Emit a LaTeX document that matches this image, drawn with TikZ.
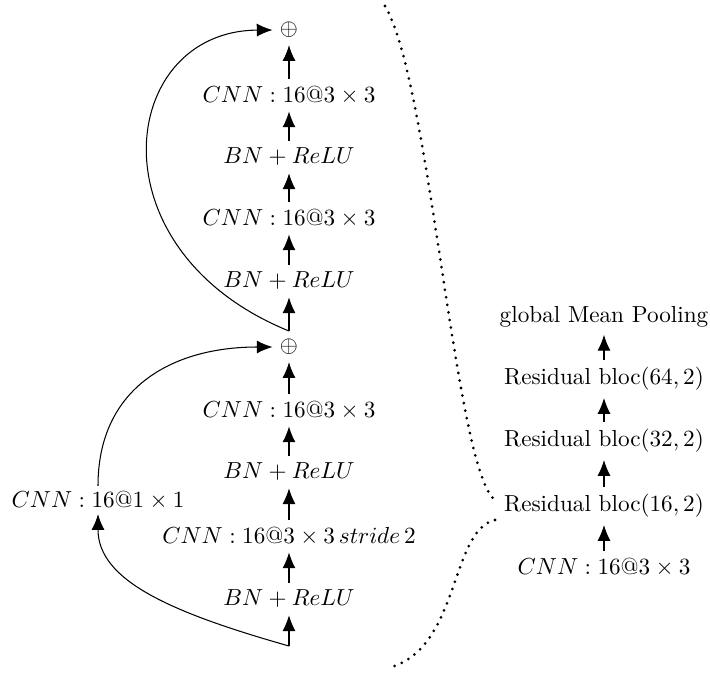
\documentclass[tikz,border=0pt]{standalone}
\usetikzlibrary{arrows.meta}
\begin{document}
\begin{tikzpicture}[x=0.431pt,y=-0.431pt,
  lbl/.style={inner sep=3pt},
  upar/.style={-{Latex[length=6.8pt,width=5.6pt]}, line width=0.45pt},
  brc/.style={line width=1.3pt, dash pattern=on 0pt off 3.3pt, line cap=round}]
\useasboundingbox (0,0) rectangle (710,675);
% upper residual block
\node[lbl] (p1) at (289,30) {$\oplus$};
\node[lbl] (a1) at (289,95) {$CNN:16@3\times 3$};
\node[lbl] (a2) at (289,157) {$BN+ReLU$};
\node[lbl] (a3) at (289,218) {$CNN:16@3\times 3$};
\node[lbl] (a4) at (289,281) {$BN+ReLU$};
\coordinate (c1) at (289,331);
% lower residual block
\node[lbl] (p2) at (289,347) {$\oplus$};
\node[lbl] (b1) at (289,410) {$CNN:16@3\times 3$};
\node[lbl] (b2) at (289,472) {$BN+ReLU$};
\node[lbl] (b3) at (289,536) {$CNN:16@3\times 3\,stride\,2$};
\node[lbl] (b4) at (289,599) {$BN+ReLU$};
\coordinate (c2) at (289,646);
\node[lbl, inner sep=2pt] (s1) at (98,500) {$CNN:16@1\times 1$};
% right column
\node[lbl] (r5) at (604,317) {global Mean Pooling};
\node[lbl] (r4) at (604,379) {Residual bloc$(64,2)$};
\node[lbl] (r3) at (604,441) {Residual bloc$(32,2)$};
\node[lbl] (r2) at (604,506) {Residual bloc$(16,2)$};
\node[lbl] (r1) at (604,567) {$CNN:16@3\times 3$};
% vertical arrows
\draw[upar] (a1) -- (p1);
\draw[upar] (a2) -- (a1);
\draw[upar] (a3) -- (a2);
\draw[upar] (a4) -- (a3);
\draw[upar] (c1) -- (a4);
\draw[upar] (b1) -- (p2);
\draw[upar] (b2) -- (b1);
\draw[upar] (b3) -- (b2);
\draw[upar] (b4) -- (b3);
\draw[upar] (c2) -- (b4);
\draw[upar] (r1) -- (r2);
\draw[upar] (r2) -- (r3);
\draw[upar] (r3) -- (r4);
\draw[upar] (r4) -- (r5);
% skip connections
\draw[upar] (c1) .. controls (90,250) and (118,31) .. (p1.west);
\draw[upar] (c2) .. controls (169,612) and (98,580) .. (s1.south);
\draw[upar] (s1.north) .. controls (98,388) and (172,347) .. (p2.west);
% dotted brace
\coordinate (d0) at (385,6);
\coordinate (d1) at (495,500);
\coordinate (d2) at (495,520);
\coordinate (d3) at (388,668);
\draw[brc] (d0) .. controls (430,80) and (455,470) .. (d1);
\draw[brc] (d2) .. controls (450,530) and (460,650) .. (d3);
\end{tikzpicture}
\end{document}
